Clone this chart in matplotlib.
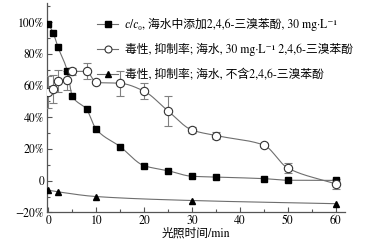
import numpy as np
import matplotlib
matplotlib.use("Agg")
import matplotlib.pyplot as plt
from matplotlib.ticker import MultipleLocator, FuncFormatter

# data
t_conc = [0, 1, 2, 4, 5, 8, 10, 15, 20, 25, 30, 35, 45, 50, 60]
c_ratio = [99, 93.5, 84.5, 69, 53.5, 45, 32.5, 21.5, 9.5, 6.3, 2.8, 2.3, 1.3, 0.3, 0.2]

t_tox = [0, 1, 2, 4, 5, 8, 10, 15, 20, 25, 30, 35, 45, 50, 60]
tox_tbp = [56, 58, 62.7, 63.5, 69, 69, 62, 61.5, 56.5, 44, 32, 28.5, 22.5, 8, -2]
tox_err = [10, 9, 7, 6, 2, 5, 1, 8, 5, 9.5, 2, 2, 1, 3, 3]

t_blank = [0, 2, 10, 30, 60]
tox_blank = [-6, -7, -10, -12.5, -14.5]

labels = ["𝑐/𝑐₀, 海水中添加2,4,6-三溴苯酚, 30 mg·L⁻¹",
          "毒性, 抑制率; 海水, 30 mg·L⁻¹ 2,4,6-三溴苯酚",
          "毒性, 抑制率; 海水, 不含2,4,6-三溴苯酚"]

fonts = ["STIXGeneral", "Liberation Serif", "Noto Sans CJK SC", "DejaVu Sans"]
plt.rcParams["font.family"] = fonts
plt.rcParams["axes.unicode_minus"] = True


def smooth(x, y, n=300):
    # monotone cubic (pchip) curve through the measured points, for drawing only
    x = np.asarray(x, float)
    y = np.asarray(y, float)
    h = np.diff(x)
    d = np.diff(y) / h
    m = np.zeros_like(y)
    for k in range(1, len(x) - 1):
        if d[k - 1] * d[k] > 0:
            w1 = 2 * h[k] + h[k - 1]
            w2 = h[k] + 2 * h[k - 1]
            m[k] = (w1 + w2) / (w1 / d[k - 1] + w2 / d[k])
    m[0] = d[0]
    m[-1] = d[-1]
    xs = np.linspace(x[0], x[-1], n)
    idx = np.clip(np.searchsorted(x, xs) - 1, 0, len(x) - 2)
    s = (xs - x[idx]) / h[idx]
    h00 = 2 * s**3 - 3 * s**2 + 1
    h10 = s**3 - 2 * s**2 + s
    h01 = -2 * s**3 + 3 * s**2
    h11 = s**3 - s**2
    ys = h00 * y[idx] + h10 * h[idx] * m[idx] + h01 * y[idx + 1] + h11 * h[idx] * m[idx + 1]
    return xs, ys


fig = plt.figure(figsize=(3.81, 2.49), dpi=100)
ax = fig.add_axes([0.123, 0.147, 0.783, 0.84])

line_col = "#6e6e6e"

# smooth curves
for tx, ty in [(t_conc, c_ratio), (t_tox, tox_tbp), (t_blank, tox_blank)]:
    xs, ys = smooth(tx, ty)
    ax.plot(xs, ys, color=line_col, lw=0.8, zorder=2)

ax.errorbar(t_tox, tox_tbp, yerr=tox_err, fmt="none", ecolor="#808080",
            elinewidth=0.8, capsize=3, capthick=0.8, zorder=3)

ax.plot(t_conc, c_ratio, ls="none", marker="s", ms=4.5, mfc="black", mec="black", zorder=4)
ax.plot(t_tox, tox_tbp, ls="none", marker="o", ms=6, mfc="white", mec="#333333", mew=0.8, zorder=4)
ax.plot(t_blank, tox_blank, ls="none", marker="^", ms=4.5, mfc="black", mec="black", zorder=4)

# legend handles: line + marker
h1, = ax.plot([], [], color=line_col, lw=0.8, marker="s", ms=4, mfc="black", mec="black")
h2, = ax.plot([], [], color=line_col, lw=0.8, marker="o", ms=5, mfc="white", mec="#333333", mew=0.8)
h3, = ax.plot([], [], color=line_col, lw=0.8, marker="^", ms=4, mfc="black", mec="black")
leg = ax.legend([h1, h2, h3], labels, loc="upper left", bbox_to_anchor=(0.168, 0.93),
                frameon=False, fontsize=8.5, handlelength=1.8, handletextpad=0.6,
                labelspacing=1.05, borderaxespad=0, borderpad=0)

ax.set_xlim(-0.3, 62)
ax.set_ylim(-20, 112)
ax.xaxis.set_major_locator(MultipleLocator(10))
ax.xaxis.set_minor_locator(MultipleLocator(5))
ax.yaxis.set_major_locator(MultipleLocator(20))
ax.yaxis.set_minor_locator(MultipleLocator(10))


def pct(v, pos):
    if abs(v) < 1e-9:
        return "0"
    return f"{int(round(v))}%".replace("-", "\u2212")


ax.yaxis.set_major_formatter(FuncFormatter(pct))
ax.tick_params(which="both", direction="in", labelsize=8.5, width=0.8, color="#555555")
ax.tick_params(which="major", length=3.5, pad=2)
ax.tick_params(which="minor", length=2)

for side in ["top", "right"]:
    ax.spines[side].set_visible(False)
for side in ["left", "bottom"]:
    ax.spines[side].set_color("#555555")
    ax.spines[side].set_linewidth(0.9)

ax.set_xlabel("光照时间/min", fontsize=8.5, labelpad=0.5)

fig.savefig("out.png", dpi=100)
